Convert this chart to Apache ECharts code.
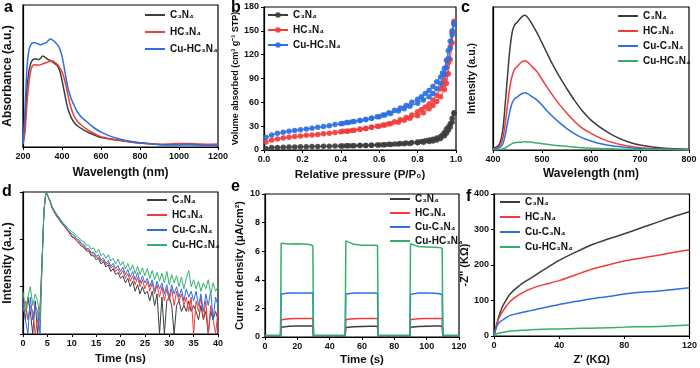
<!DOCTYPE html>
<html><head><meta charset="utf-8">
<script src="https://cdn.jsdelivr.net/npm/echarts@6/dist/echarts.min.js"></script>
<style>html,body{margin:0;padding:0;background:#fff}#c{width:700px;height:368px}</style>
</head><body><div id="c"></div>
<script>
// ---- panel a: UV-vis absorbance ----
const aWave = [200,210,220,230,240,250,260,270,280,290,300,310,320,330,340,350,360,370,380,390,400,410,420,430,440,450,460,470,480,500,525,550,575,600,650,700,750,800,850,900,950,1000,1050,1100,1150,1200];
const aC3N4 = [0.02,0.15,0.4,0.53,0.59,0.615,0.62,0.62,0.615,0.625,0.64,0.635,0.625,0.615,0.61,0.60,0.59,0.58,0.565,0.53,0.47,0.40,0.33,0.27,0.23,0.2,0.178,0.16,0.148,0.13,0.11,0.094,0.078,0.066,0.055,0.045,0.036,0.028,0.022,0.018,0.016,0.016,0.016,0.015,0.014,0.014];
const aHC3N4 = [0.02,0.1,0.3,0.45,0.54,0.575,0.58,0.578,0.576,0.58,0.584,0.59,0.595,0.60,0.605,0.605,0.60,0.59,0.576,0.555,0.53,0.49,0.435,0.37,0.306,0.26,0.224,0.2,0.18,0.153,0.128,0.106,0.088,0.072,0.058,0.047,0.037,0.03,0.024,0.02,0.022,0.025,0.025,0.022,0.02,0.022];
const aCuHC3N4 = [0.02,0.25,0.55,0.68,0.72,0.735,0.735,0.73,0.725,0.72,0.725,0.73,0.735,0.75,0.76,0.755,0.745,0.73,0.715,0.685,0.64,0.57,0.49,0.42,0.37,0.33,0.30,0.27,0.245,0.21,0.18,0.15,0.125,0.105,0.075,0.055,0.04,0.03,0.022,0.016,0.014,0.015,0.02,0.014,0.01,0.01];

// ---- panel b: N2 isotherms ----
const bAdsP = [0.01,0.04,0.07,0.1,0.13,0.16,0.19,0.22,0.25,0.28,0.31,0.34,0.37,0.4,0.43,0.46,0.5,0.53,0.56,0.6,0.63,0.66,0.7,0.73,0.76,0.8,0.83,0.86,0.88,0.9,0.92,0.94,0.95,0.96,0.97,0.98,0.99];
const bDesP = [0.99,0.98,0.97,0.96,0.95,0.94,0.93,0.92,0.9,0.88,0.86,0.84,0.82,0.8,0.77,0.74,0.71,0.68,0.65,0.62,0.59,0.56,0.53,0.5,0.47,0.44,0.41];
const bC3N4Ads = [2,3,3.3,3.5,3.7,3.9,4,4.2,4.3,4.5,4.6,4.8,4.9,5,5.2,5.4,5.6,5.8,6,6.3,6.6,7,7.4,7.8,8.3,9,9.8,10.6,11.3,12.5,14.5,18,21,25,29,35,47];
const bC3N4Des = [46,40,33,29,26,22,19,17,15,13.5,12.5,11.5,10.8,10.2,9.5,8.8,8.2,7.6,7.1,6.7,6.3,6,5.8,5.6,5.4,5.2,5.1];
const bHC3N4Ads = [10,12.5,14,15,16,17,17.5,18.5,19,19.5,20.5,21,22,23,23.5,24.5,26,27,28.5,30,31.5,33,35,37.5,40,43,47,52,56,61,67,76,84,96,114,135,162];
const bHC3N4Des = [160,148,130,110,95,88,82,77,69,63,58,54,51,48,44,41,38,35.5,33,31.5,30,28.5,27,26,25,24,23.5];
const bCuHC3N4Ads = [16,19,21,22.5,23.5,24.5,25.5,26.5,27.5,28.5,29.5,30.5,32,33,34.5,35.5,37,38.5,40,42,44,46,49,52,55,59,63,67,71,77,84,95,104,115,128,145,160];
const bCuHC3N4Des = [158,150,137,125,113,103,97,92,86,80,75,71,67,64,60,56,53,50,47,44,42,40,38.5,37,36,34.5,33.5];

// ---- panel c: PL spectra ----
const cWave = [400,410,415,420,425,430,435,440,445,450,455,460,465,470,475,480,490,500,510,520,535,550,565,580,600,625,650,675,700,750,800];
const cC3N4 = [5,12,25,60,140,230,310,360,378,385,395,402,405,400,390,378,352,322,292,262,222,186,152,122,90,62,40,25,15,5,2];
const cHC3N4 = [3,8,15,35,80,140,195,228,245,252,260,266,268,265,258,250,235,212,190,168,138,112,88,68,50,32,20,12,7,3,1];
const cCuC3N4 = [2,5,9,18,45,85,120,145,155,160,166,170,172,170,165,160,150,135,118,103,83,65,50,38,27,17,11,7,4,2,1];
const cCuHC3N4 = [1,1,2,3,6,11,16,20,22,23,23,24,25,24,24,23,21,19,17,15,13,11,9,7,5,4,3,2,1,0.5,0.3];

// ---- panel d: TRPL decay (counts, log axis) ----
const dTime = [0,0.5,1,1.5,2,2.5,3,3.5,4,4.3,4.7,5,5.5,6,6.5,7,7.5,8,8.5,9,9.5,10,10.5,11,11.5,12,12.5,13,13.5,14,14.5,15,15.5,16,16.5,17,17.5,18,18.5,19,19.5,20,20.5,21,21.5,22,22.5,23,23.5,24,24.5,25,25.5,26,26.5,27,27.5,28,28.5,29,29.5,30,30.5,31,31.5,32,32.5,33,33.5,34,34.5,35,35.5,36,36.5,37,37.5,38,38.5,39,39.5,40];
const dC3N4 = [4,2,6,3,1,5,1,3,60,400,1000,900,
 640,450,360,298,252,212,187,158,137,113,
 106,92,82,72,67,57,56,45,45,37,
 40,30,34,26,29,21,24,18,20,15,
 17,12,15,10,13,8,11,7,10,7,
 8,5,8,4,7,1,6,1,5,6,
 4,1,4,5,3,4,3,5,3,4,
 3,2,4,2,3,1,3,2,3,2];
const dHC3N4 = [3,5,2,4,3,1,2,4,60,400,1000,910,
 650,460,372,302,258,218,192,160,142,118,
 110,94,88,74,72,60,59,48,50,42,
 42,34,36,29,32,25,27,21,24,18,
 22,15,19,13,17,11,16,10,14,9,
 13,8,12,7,11,6,10,5,9,5,
 9,4,8,5,7,4,6,3,6,1,
 5,3,6,2,5,1,4,2,1,3];
const dCuC3N4 = [5,2,1,6,2,4,3,1,60,400,1000,920,
 660,470,385,312,268,225,200,168,150,130,
 122,100,97,80,79,64,64,52,54,44,
 47,37,40,31,36,27,31,24,28,21,
 26,18,23,16,21,14,20,12,17,12,
 15,10,14,8,13,9,12,7,11,6,
 11,7,10,6,9,5,9,6,8,5,
 8,4,7,3,7,4,8,2,6,4];
const dCuHC3N4 = [8,3,6,10,4,7,5,2,60,400,1000,930,
 680,490,400,330,285,238,212,182,165,145,
 135,115,108,92,90,76,75,62,66,52,
 62,45,50,40,47,35,40,30,38,28,
 34,24,31,22,29,19,27,18,25,17,
 24,15,22,14,20,13,19,12,21,11,
 18,12,17,10,16,9,15,22,10,14,
 9,13,8,12,9,14,7,12,8,10];

// ---- panel e: photocurrent ----
const eTime = [0,9.6,10,11,15,20,25,28,29.6,30,49.6,50,51,55,60,65,68,69.6,70,89.6,90,91,95,100,105,108,109.6,110,120];
const eC3N4 = [0.05,0.05,0.68,0.72,0.75,0.77,0.77,0.77,0.76,0.05,0.05,0.66,0.7,0.72,0.74,0.75,0.75,0.74,0.05,0.05,0.68,0.72,0.74,0.76,0.77,0.77,0.76,0.05,0.05];
const eHC3N4 = [0.08,0.08,1.2,1.25,1.28,1.3,1.3,1.3,1.3,0.08,0.08,1.22,1.26,1.28,1.3,1.3,1.3,1.3,0.08,0.08,1.22,1.26,1.28,1.3,1.3,1.3,1.3,0.08,0.08];
const eCuC3N4 = [0.1,0.1,3.0,3.05,3.08,3.08,3.08,3.08,3.06,0.1,0.1,3.0,3.06,3.08,3.08,3.08,3.08,3.05,0.1,0.1,2.98,3.05,3.08,3.08,3.06,3.02,2.95,0.1,0.1];
const eCuHC3N4 = [0.1,0.1,6.55,6.5,6.5,6.52,6.5,6.45,6.38,0.1,0.1,6.72,6.6,6.48,6.42,6.42,6.42,6.4,0.1,0.1,6.52,6.4,6.32,6.3,6.28,6.25,6.2,0.1,0.1];

// ---- panel f: Nyquist ----
const fZre = [0,1,2,3,5,7.5,10,15,20,25,30,40,50,60,70,80,90,100,110,120];
const fC3N4 = [0,20,39,55,81,102,119,140,156,170,185,213,236,257,273,288,304,320,336,350];
const fHC3N4 = [0,22,38,50,67,84,98,115,128,137,144,156,172,188,200,211,219,227,235,243];
const fCuC3N4 = [0,18,30,37,44,52,58,64,69,74,79,89,97,105,111,118,123,126,131,136];
const fCuHC3N4 = [0,4,7,8,10,12,14,15.5,17,18,19,20,21,22,23,25,26,27,29,31];

const L = {k:'C₃N₄', r:'HC₃N₄', b:'Cu-C₃N₄', g:'Cu-HC₃N₄', bb:'Cu-HC₃N₄'};

const FONT = '"Liberation Sans", Arial, Helvetica, sans-serif';
const COL = {k:'#3d3d3d', r:'#f23b3b', b:'#2b6fe3', g:'#35b06c', bb:'#2b6fe3'};

function zip(x, y){ return x.map((v,i)=>[v, y[i]]); }

const grids = [
 {left:23, top:5, width:195, height:142},
 {left:264, top:7, width:192, height:143},
 {left:493, top:7, width:196, height:143},
 {left:23, top:192, width:195, height:142},
 {left:265, top:194, width:194, height:143},
 {left:494, top:194, width:196, height:142}
].map(g => Object.assign({show:true, borderColor:'#000', borderWidth:1.2}, g));

function axis(gi, o){
  const base = {
    gridIndex: gi, type:'value',
    axisLine:{show:true, onZero:false, lineStyle:{color:'#000', width:1.2}},
    axisTick:{show:true, inside:false, length:3, lineStyle:{color:'#000', width:1}},
    axisLabel:{show:true, color:'#111', fontFamily:FONT, fontWeight:'bold', fontSize:9, margin:5, formatter:v=>String(v)},
    splitLine:{show:false},
    nameLocation:'middle',
    nameTextStyle:{color:'#111', fontFamily:FONT, fontWeight:'bold', fontSize:12}
  };
  for (const k in o) {
    if (base[k] && typeof base[k]==='object' && typeof o[k]==='object') base[k] = Object.assign({}, base[k], o[k]);
    else base[k] = o[k];
  }
  return base;
}

const xAxis = [
  axis(0,{min:200,max:1200,interval:200,name:'Wavelength (nm)',nameGap:20}),
  axis(1,{min:0,max:1,interval:0.2,name:'Relative pressure (P/P₀)',nameGap:19,nameTextStyle:{fontSize:11.5},axisLabel:{formatter:v=>v.toFixed(1)}}),
  axis(2,{min:400,max:800,interval:100,name:'Wavelength (nm)',nameGap:18}),
  axis(3,{min:0,max:40,interval:5,name:'Time (ns)',nameGap:19,nameTextStyle:{fontSize:11.5}}),
  axis(4,{min:0,max:120,interval:20,name:'Time (s)',nameGap:17,nameTextStyle:{fontSize:11.5}}),
  axis(5,{min:0,max:120,interval:40,name:"Z' (KΩ)",nameGap:18,nameTextStyle:{fontSize:11}})
];
const yAxis = [
  axis(0,{min:0,max:1,name:'Absorbance (a.u.)',nameGap:9,axisTick:{show:false},axisLabel:{show:false}}),
  axis(1,{min:0,max:180,interval:30,name:'Volume absorbed (cm³ g⁻¹ STP)',nameGap:22,nameTextStyle:{fontSize:9}}),
  axis(2,{min:0,max:430,name:'Intensity (a.u.)',nameGap:15,nameTextStyle:{fontSize:10.5},axisTick:{show:false},axisLabel:{show:false}}),
  axis(3,{type:'log',logBase:10,min:1,max:1000,name:'Intensity (a.u.)',nameGap:9,axisLabel:{show:false}}),
  axis(4,{min:0,max:10,interval:2,name:'Current density (μA/cm²)',nameGap:20,nameTextStyle:{fontSize:11}}),
  axis(5,{min:0,max:400,interval:100,name:"-Z'' (KΩ)",nameGap:21,nameTextStyle:{fontSize:11}})
];

function ln(p, gi, key, data, o){
  return Object.assign({
    type:'line', name:p+':'+L[key], xAxisIndex:gi, yAxisIndex:gi, data:data,
    symbol:'none', showSymbol:false, animation:false,
    lineStyle:{color:COL[key], width:1.5}, itemStyle:{color:COL[key]}
  }, o||{});
}
function bet(key, ads, des){
  return ln('b',1,key, zip(bAdsP,ads).concat(zip(bDesP,des)), {
    symbol:'circle', showSymbol:true, symbolSize:5.5,
    lineStyle:{color:COL[key], width:1},
    itemStyle:{color:COL[key], opacity:0.9}
  });
}

const series = [
  ln('a',0,'k',zip(aWave,aC3N4),{smooth:0.3}),
  ln('a',0,'r',zip(aWave,aHC3N4),{smooth:0.3}),
  ln('a',0,'bb',zip(aWave,aCuHC3N4),{smooth:0.3}),
  bet('k',bC3N4Ads,bC3N4Des),
  bet('r',bHC3N4Ads,bHC3N4Des),
  bet('bb',bCuHC3N4Ads,bCuHC3N4Des),
  ln('c',2,'k',zip(cWave,cC3N4),{smooth:0.35}),
  ln('c',2,'r',zip(cWave,cHC3N4),{smooth:0.35}),
  ln('c',2,'b',zip(cWave,cCuC3N4),{smooth:0.35}),
  ln('c',2,'g',zip(cWave,cCuHC3N4),{smooth:0.35}),
  ln('d',3,'k',zip(dTime,dC3N4),{lineStyle:{color:COL.k,width:1}}),
  ln('d',3,'r',zip(dTime,dHC3N4),{lineStyle:{color:COL.r,width:1}}),
  ln('d',3,'b',zip(dTime,dCuC3N4),{lineStyle:{color:COL.b,width:1}}),
  ln('d',3,'g',zip(dTime,dCuHC3N4),{lineStyle:{color:COL.g,width:1}}),
  ln('e',4,'k',zip(eTime,eC3N4)),
  ln('e',4,'r',zip(eTime,eHC3N4)),
  ln('e',4,'b',zip(eTime,eCuC3N4)),
  ln('e',4,'g',zip(eTime,eCuHC3N4)),
  ln('f',5,'k',zip(fZre,fC3N4),{smooth:0.3}),
  ln('f',5,'r',zip(fZre,fHC3N4),{smooth:0.3}),
  ln('f',5,'b',zip(fZre,fCuC3N4),{smooth:0.3}),
  ln('f',5,'g',zip(fZre,fCuHC3N4),{smooth:0.3})
];

function legend(p, keys, left, top, gap, withMarker){
  const lg = {
    orient:'vertical', left:left, top:top, padding:0, itemWidth:20, itemGap:gap,
    selectedMode:false, data:keys.map(k=>p+':'+L[k]), formatter:n=>n.slice(2),
    textStyle:{fontFamily:FONT, fontWeight:'bold', fontSize:10, color:'#111'}
  };
  if (withMarker) { lg.itemHeight = 7; }
  else { lg.icon = 'rect'; lg.itemHeight = 2; }
  return lg;
}

const letters = [['a',4,0],['b',231,0],['c',461,0],['d',2,184],['e',231,179],['f',466,189]];

const option = {
  backgroundColor:'#fff',
  animation:false,
  title: letters.map(t=>({text:t[0], left:t[1], top:t[2], padding:0,
    textStyle:{fontFamily:FONT, fontWeight:'bold', fontSize:16, color:'#000'}})),
  grid: grids,
  xAxis: xAxis,
  yAxis: yAxis,
  legend: [
    legend('a',['k','r','bb'],145,10,7),
    legend('b',['k','r','bb'],267,10,5,true),
    legend('c',['k','r','b','g'],618,11,5),
    legend('d',['k','r','b','g'],147,195,5),
    legend('e',['k','r','b','g'],390,194,4),
    legend('f',['k','r','b','g'],500,197,5)
  ],
  series: series
};
const chart = echarts.init(document.getElementById('c'));
chart.setOption(option);
</script></body></html>
